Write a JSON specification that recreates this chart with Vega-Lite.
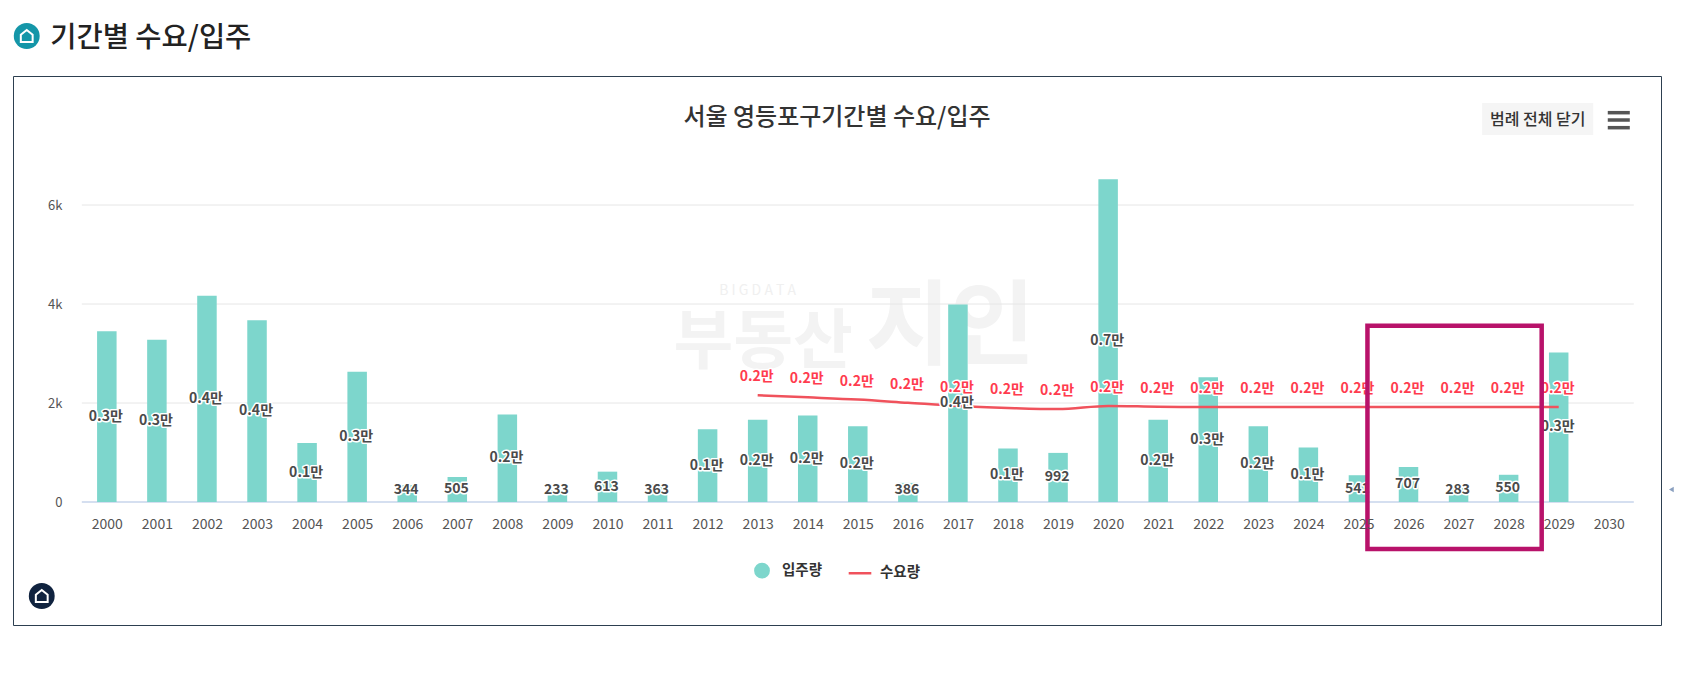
{"$schema":"https://vega.github.io/schema/vega-lite/v6.json","width":1648,"height":549,"autosize":{"type":"none"},"padding":{"left":13,"top":76,"right":22,"bottom":57},"background":"white","view":{"stroke":"#2d3f50","strokeWidth":1,"fill":"white"},"config":{"font":"Noto Sans CJK KR","axis":{"grid":false,"ticks":false,"domain":false,"title":null,"labelFont":"Noto Sans CJK KR","labelColor":"#555555"},"axisX":{"offset":-123,"labelPadding":15,"labelFontSize":14,"labelOverlap":false,"labelFlush":false,"format":"d"},"axisY":{"offset":-49,"labelPadding":0,"labelFontSize":13},"legend":{"title":null}},"title":{"text":"서울 영등포구기간별 수요/입주","anchor":"middle","frame":"group","offset":-107,"font":"Noto Sans CJK KR","fontSize":24,"fontWeight":500,"color":"#333333"},"datasets":{"main":[{"year":2000,"supply":3450,"supplyLabel":"0.3만"},{"year":2001,"supply":3280,"supplyLabel":"0.3만"},{"year":2002,"supply":4165,"supplyLabel":"0.4만"},{"year":2003,"supply":3670,"supplyLabel":"0.4만"},{"year":2004,"supply":1190,"supplyLabel":"0.1만"},{"year":2005,"supply":2630,"supplyLabel":"0.3만"},{"year":2006,"supply":344,"supplyLabel":"344"},{"year":2007,"supply":505,"supplyLabel":"505"},{"year":2008,"supply":1770,"supplyLabel":"0.2만"},{"year":2009,"supply":233,"supplyLabel":"233"},{"year":2010,"supply":613,"supplyLabel":"613"},{"year":2011,"supply":363,"supplyLabel":"363"},{"year":2012,"supply":1470,"supplyLabel":"0.1만"},{"year":2013,"supply":1660,"supplyLabel":"0.2만","demand":2157,"demandLabel":"0.2만"},{"year":2014,"supply":1750,"supplyLabel":"0.2만","demand":2115,"demandLabel":"0.2만"},{"year":2015,"supply":1530,"supplyLabel":"0.2만","demand":2070,"demandLabel":"0.2만"},{"year":2016,"supply":386,"supplyLabel":"386","demand":2005,"demandLabel":"0.2만"},{"year":2017,"supply":3990,"supplyLabel":"0.4만","demand":1940,"demandLabel":"0.2만"},{"year":2018,"supply":1080,"supplyLabel":"0.1만","demand":1900,"demandLabel":"0.2만"},{"year":2019,"supply":992,"supplyLabel":"992","demand":1877,"demandLabel":"0.2만"},{"year":2020,"supply":6520,"supplyLabel":"0.7만","demand":1940,"demandLabel":"0.2만"},{"year":2021,"supply":1660,"supplyLabel":"0.2만","demand":1925,"demandLabel":"0.2만"},{"year":2022,"supply":2520,"supplyLabel":"0.3만","demand":1920,"demandLabel":"0.2만"},{"year":2023,"supply":1530,"supplyLabel":"0.2만","demand":1920,"demandLabel":"0.2만"},{"year":2024,"supply":1100,"supplyLabel":"0.1만","demand":1920,"demandLabel":"0.2만"},{"year":2025,"supply":541,"supplyLabel":"541","demand":1920,"demandLabel":"0.2만"},{"year":2026,"supply":707,"supplyLabel":"707","demand":1920,"demandLabel":"0.2만"},{"year":2027,"supply":283,"supplyLabel":"283","demand":1920,"demandLabel":"0.2만"},{"year":2028,"supply":550,"supplyLabel":"550","demand":1920,"demandLabel":"0.2만"},{"year":2029,"supply":3020,"supplyLabel":"0.3만","demand":1920,"demandLabel":"0.2만"},{"year":2030}]},"data":{"name":"main"},"resolve":{"scale":{"y":"independent"}},"layer":[{"layer":[{"data":{"values":[{"k":1}]},"mark":{"type":"text","font":"Noto Sans CJK KR","fontSize":14,"color":"#f0f0f0"},"encoding":{"text":{"value":"B I G D A T A"},"x":{"datum":2013.0,"type":"quantitative","scale":{"domain":[1999.5,2030.5],"range":[68.8,1620.8],"nice":false,"zero":false,"padding":0}},"y":{"datum":4263,"type":"quantitative","scale":{"domain":[0,7000],"range":[426,79.5],"nice":false,"zero":false,"padding":0}}}},{"data":{"values":[{"k":1}]},"mark":{"type":"text","font":"Noto Sans CJK KR","fontSize":65,"fontWeight":700,"color":"#f3f3f3"},"encoding":{"text":{"value":"부동산"},"x":{"datum":2013.11,"type":"quantitative"},"y":{"datum":3212,"type":"quantitative"}}},{"data":{"values":[{"k":1}]},"mark":{"type":"text","font":"Noto Sans CJK KR","fontSize":92,"fontWeight":700,"color":"#f3f3f3"},"encoding":{"text":{"value":"지인"},"x":{"datum":2016.85,"type":"quantitative"},"y":{"datum":3500,"type":"quantitative"}}},{"data":{"values":[{"tick":2000},{"tick":4000},{"tick":6000}]},"mark":{"type":"rule","color":"#e6e6e6","strokeWidth":1},"encoding":{"y":{"field":"tick","type":"quantitative"},"x":{"datum":1999.5,"type":"quantitative"},"x2":{"datum":2030.5}}},{"data":{"values":[{"tick":0}]},"mark":{"type":"rule","color":"#d5dff0","strokeWidth":2},"encoding":{"y":{"field":"tick","type":"quantitative"},"x":{"datum":1999.5,"type":"quantitative"},"x2":{"datum":2030.5}}},{"mark":{"type":"bar","orient":"vertical","size":19.5,"color":"#7dd6cc"},"encoding":{"x":{"field":"year","type":"quantitative","axis":{"values":[2000,2001,2002,2003,2004,2005,2006,2007,2008,2009,2010,2011,2012,2013,2014,2015,2016,2017,2018,2019,2020,2021,2022,2023,2024,2025,2026,2027,2028,2029,2030],"zindex":1}},"y":{"field":"supply","type":"quantitative","stack":null,"axis":{"values":[0,2000,4000,6000],"labelExpr":"datum.value === 0 ? '0' : (datum.value / 1000) + 'k'","zindex":1}}}},{"mark":{"type":"line","interpolate":"monotone","color":"#f0525c","strokeWidth":2.5},"encoding":{"x":{"field":"year","type":"quantitative"},"y":{"field":"demand","type":"quantitative"}}}]},{"layer":[{"mark":{"type":"text","font":"Noto Sans CJK KR","fontSize":14,"fontWeight":700,"stroke":"white","strokeWidth":3,"strokeJoin":"round","dx":-1},"encoding":{"text":{"field":"supplyLabel"},"x":{"field":"year","type":"quantitative"},"y":{"field":"supply","type":"quantitative","scale":{"domain":[480,14000],"range":[414.1,79.5],"nice":false,"zero":false,"clamp":true},"axis":null}}},{"mark":{"type":"text","font":"Noto Sans CJK KR","fontSize":14,"fontWeight":700,"color":"#4a4a4a","dx":-1},"encoding":{"text":{"field":"supplyLabel"},"x":{"field":"year","type":"quantitative"},"y":{"field":"supply","type":"quantitative","axis":null}}}]},{"layer":[{"mark":{"type":"text","font":"Noto Sans CJK KR","fontSize":14,"fontWeight":700,"stroke":"white","strokeWidth":3,"strokeJoin":"round","dx":-1,"dy":-18},"encoding":{"text":{"field":"demandLabel"},"x":{"field":"year","type":"quantitative"},"y":{"field":"demand","type":"quantitative","scale":{"domain":[0,7000],"range":[426,79.5],"nice":false,"zero":false},"axis":null}}},{"mark":{"type":"text","font":"Noto Sans CJK KR","fontSize":14,"fontWeight":700,"color":"#ff3b4e","dx":-1,"dy":-18},"encoding":{"text":{"field":"demandLabel"},"x":{"field":"year","type":"quantitative"},"y":{"field":"demand","type":"quantitative","axis":null}}},{"data":{"values":[{"k":1}]},"mark":{"type":"rect","fillOpacity":0,"stroke":"#b8126a","strokeWidth":4.5},"encoding":{"x":{"datum":2025.18,"type":"quantitative"},"x2":{"datum":2028.66},"y":{"datum":3560,"type":"quantitative","axis":null},"y2":{"datum":-949}}},{"data":{"values":[{"k":1}]},"mark":{"type":"text","align":"left","font":"Noto Sans CJK KR","fontSize":28.5,"fontWeight":500,"color":"#222222"},"encoding":{"text":{"value":"기간별 수요/입주"},"x":{"datum":1998.87,"type":"quantitative"},"y":{"datum":9370,"type":"quantitative","axis":null}}},{"data":{"values":[{"k":1}]},"mark":{"type":"point","filled":true,"shape":"circle","size":670,"color":"#1496a8","opacity":1},"encoding":{"x":{"datum":1998.4,"type":"quantitative"},"y":{"datum":9414,"type":"quantitative","axis":null}}},{"data":{"values":[{"k":1}]},"mark":{"type":"point","filled":false,"shape":"M-1,1L-1,-0.2L0,-1L1,-0.2L1,1Z","size":140,"stroke":"white","strokeWidth":2,"opacity":1},"encoding":{"x":{"datum":1998.4,"type":"quantitative"},"y":{"datum":9414,"type":"quantitative","axis":null}}},{"data":{"values":[{"k":1}]},"mark":{"type":"point","filled":true,"shape":"circle","size":670,"color":"#10233f","opacity":1},"encoding":{"x":{"datum":1998.7,"type":"quantitative"},"y":{"datum":-1899,"type":"quantitative","axis":null}}},{"data":{"values":[{"k":1}]},"mark":{"type":"point","filled":false,"shape":"M-1,1L-1,-0.2L0,-1L1,-0.2L1,1Z","size":140,"stroke":"white","strokeWidth":2,"opacity":1},"encoding":{"x":{"datum":1998.7,"type":"quantitative"},"y":{"datum":-1899,"type":"quantitative","axis":null}}},{"data":{"values":[{"k":1}]},"mark":{"type":"rect","fill":"#f5f5f5"},"encoding":{"x":{"datum":2027.47,"type":"quantitative"},"x2":{"datum":2029.69},"y":{"datum":8061,"type":"quantitative","axis":null},"y2":{"datum":7414}}},{"data":{"values":[{"k":1}]},"mark":{"type":"text","font":"Noto Sans CJK KR","fontSize":16,"fontWeight":500,"color":"#333333"},"encoding":{"text":{"value":"범례 전체 닫기"},"x":{"datum":2028.58,"type":"quantitative"},"y":{"datum":7717,"type":"quantitative","axis":null}}},{"data":{"values":[{"tick":7865},{"tick":7717},{"tick":7562}]},"mark":{"type":"rule","color":"#555555","strokeWidth":3.5},"encoding":{"y":{"field":"tick","type":"quantitative","axis":null},"x":{"datum":2029.98,"type":"quantitative"},"x2":{"datum":2030.42}}},{"data":{"values":[{"k":1}]},"mark":{"type":"point","filled":true,"shape":"triangle-left","size":30,"color":"#8aa0c0","opacity":1},"encoding":{"x":{"datum":2031.25,"type":"quantitative"},"y":{"datum":254,"type":"quantitative","axis":null}}},{"data":{"values":[{"series":"입주량","none":null},{"series":"수요량","none":null}]},"mark":{"type":"point","filled":true,"strokeWidth":2.5,"opacity":1},"encoding":{"x":{"field":"none","type":"quantitative"},"y":{"field":"none","type":"quantitative","axis":null},"fill":{"field":"series","type":"nominal","scale":{"domain":["입주량","수요량"],"range":["#7dd6cc","#f0525c"]},"legend":{"orient":"none","legendX":741,"legendY":486.5,"direction":"horizontal","columns":2,"columnPadding":20,"labelFont":"Noto Sans CJK KR","labelFontSize":14.5,"labelFontWeight":700,"labelColor":"#333333","symbolSize":177,"symbolStrokeWidth":2.5,"labelOffset":12}},"stroke":{"field":"series","type":"nominal","scale":{"domain":["입주량","수요량"],"range":["#7dd6cc","#f0525c"]}},"shape":{"field":"series","type":"nominal","scale":{"domain":["입주량","수요량"],"range":["circle","M-1.7,0L1.7,0"]}}}}]}]}
